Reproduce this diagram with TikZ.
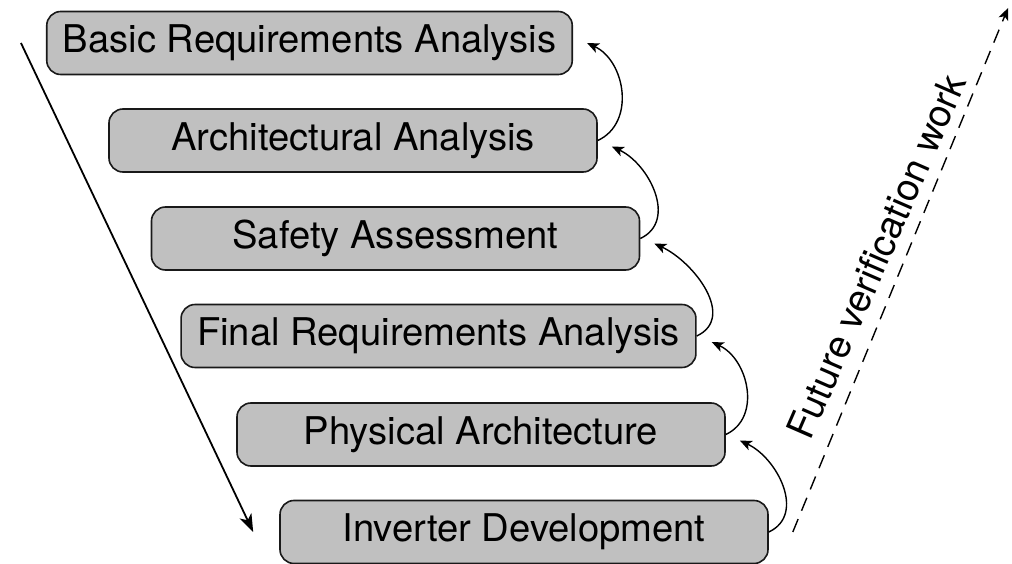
\documentclass[tikz,border=0pt]{standalone}
\usepackage{fontspec}
\setmainfont{TeX Gyre Heros}
\usetikzlibrary{arrows.meta}
\definecolor{boxgray}{RGB}{192,192,192}
\definecolor{edgeink}{RGB}{25,25,25}

\begin{document}
\begin{tikzpicture}[x=1pt,y=1pt,
  stage/.style={draw=edgeink, line width=1.6pt, fill=boxgray, rounded corners=14pt,
    minimum width=488pt, minimum height=63pt, inner xsep=16pt,
    font=\fontsize{38.2}{40}\selectfont},
  feedback/.style={-{Stealth[length=12pt,width=10pt,inset=3pt]}, line width=1.4pt,
    out=25, in=-25, looseness=1.1},
  flow/.style={-{Stealth[length=18pt,width=13pt,inset=5pt]}, line width=1.8pt},
  future/.style={-{Stealth[length=12pt,width=10pt,inset=3pt]}, line width=1.4pt,
    dash pattern=on 14pt off 9pt},
  futurelabel/.style={font=\fontsize{38.2}{40}\selectfont, anchor=base, inner sep=0pt}
]
\useasboundingbox (0,0) rectangle (1012,-564);

% the six stages, stepping down to the right
\node[stage] (b1) at (309.5,-43)  {Basic Requirements Analysis};
\node[stage] (b2) at (353,-140.5) {Architectural Analysis};
\node[stage] (b3) at (395.5,-238.5) {Safety Assessment};
\node[stage] (b4) at (438.5,-336) {Final Requirements Analysis};
\node[stage] (b5) at (481,-434.5) {Physical Architecture};
\node[stage] (b6) at (524,-532)   {Inverter Development};

% downward flow along the left side
\draw[flow] ([xshift=-25pt]b1.west) -- ([xshift=-26pt]b6.west);

% feedback loops from each stage to the one above
\draw[feedback] (b2.east) to ([xshift=14pt]b1.east);
\draw[feedback] (b3.east) to ([xshift=14pt,yshift=-6pt]b2.east);
\draw[feedback] (b4.east) to ([xshift=14pt,yshift=-5pt]b3.east);
\draw[feedback] (b5.east) to ([xshift=15pt,yshift=-6pt]b4.east);
\draw[feedback] (b6.east) to ([xshift=14pt,yshift=-6pt]b5.east);

% future verification path
\coordinate (vtop) at (1008,-8);
\draw[future] ([xshift=24pt]b6.east) -- (vtop);
\node[futurelabel, rotate=66.5] (vlabel) at (889,-262) {Future verification work};
\end{tikzpicture}
\end{document}
